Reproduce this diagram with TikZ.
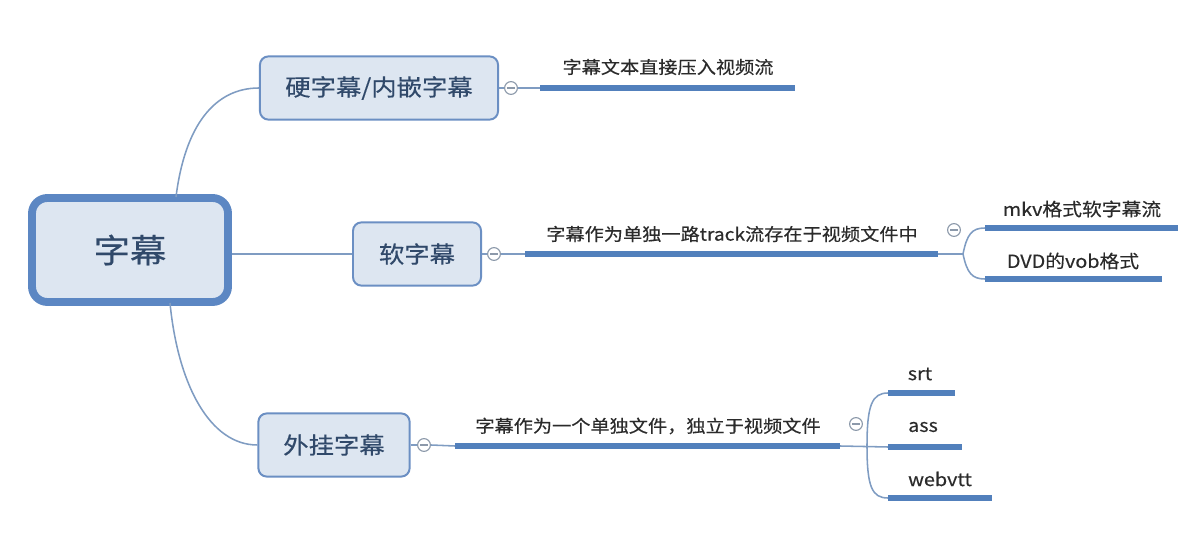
\documentclass[tikz,border=0pt]{standalone}
\usepackage{fontspec}
\setmainfont{Noto Sans CJK SC}[FakeStretch=1.1, FakeBold=0.4]
\usepackage{xcolor}
\usetikzlibrary{positioning,calc}
\definecolor{ink}{HTML}{2B2B2B}
\definecolor{boxInk}{HTML}{30496A}
\definecolor{boxFill}{HTML}{DDE6F1}
\definecolor{boxLine}{HTML}{6B8FC3}
\definecolor{rootLine}{HTML}{5C87C3}
\definecolor{linkCol}{HTML}{7F9CC2}
\definecolor{barCol}{HTML}{5280BC}
\definecolor{dotCol}{HTML}{8C99AA}

\tikzset{
  rootbox/.style={draw=rootLine, line width=5.6pt, fill=boxFill, rounded corners=11pt,
    minimum width=4.9cm, minimum height=2.6cm, text=boxInk, font=\fontsize{23.5}{28}\selectfont},
  topicbox/.style={draw=boxLine, line width=1.4pt, fill=boxFill, rounded corners=6pt,
    minimum height=1.58cm, inner sep=0pt, text=boxInk, font=\fontsize{16.4}{20}\selectfont},
  leaf/.style={inner sep=0pt, text=ink, font=\fontsize{12.4}{15}\selectfont},
  bigleaf/.style={leaf, font=\fontsize{12.8}{16}\selectfont},
  link/.style={draw=linkCol, line width=1.1pt},
  bar/.style={draw=barCol, line width=3.6pt},
  fold/.style={circle, draw=dotCol, line width=0.8pt, fill=white, minimum size=0.32cm, inner sep=0pt,
    path picture={\draw[dotCol, line width=0.8pt]
      ([xshift=2pt]path picture bounding box.west) -- ([xshift=-2pt]path picture bounding box.east);}}
}

\begin{document}
\begin{tikzpicture}[x=0.025cm, y=-0.025cm]
  \useasboundingbox (0,0) rectangle (1188,536);

  % main topic and its three branches
  \node[rootbox] (root) at (130,250) {字幕};
  \node[topicbox, minimum width=5.95cm] (hard) at (379,88) {硬字幕/内嵌字幕};
  \node[topicbox, minimum width=3.2cm] (soft) at (417,254) {软字幕};
  \node[topicbox, minimum width=3.78cm] (ext) at (334,445) {外挂字幕};

  \coordinate (rootTop) at (176,197);
  \coordinate (rootBot) at (170,303);
  \draw[link] (rootTop) .. controls (185,125) and (215,88) .. (hard.west);
  \draw[link] (root.east |- soft.west) -- (soft.west);
  \draw[link] (rootBot) .. controls (178,385) and (210,445) .. (ext.west);

  % hard subtitles
  \node[fold] (hardDot) at (511,88) {};
  \coordinate (hardL) at (540,88);
  \coordinate (hardR) at (795,88);
  \draw[link] (hard.east) -- (hardDot.west);
  \draw[link] (hardDot.east) -- (hardL);
  \draw[bar] (hardL) -- (hardR);
  \node[leaf] (hardTxt) at (668,67) {字幕文本直接压入视频流};

  % soft subtitles
  \node[fold] (softDot) at (494,254) {};
  \coordinate (softL) at (525,254);
  \coordinate (softR) at (938,254);
  \draw[link] (soft.east) -- (softDot.west);
  \draw[link] (softDot.east) -- (softL);
  \draw[bar] (softL) -- (softR);
  \node[leaf] (softTxt) at (732,234) {字幕作为单独一路track流存在于视频文件中};

  \node[fold] (softFold) at (954,230) {};
  \coordinate (softFork) at (963,254);
  \coordinate (mkvL) at (985,228);
  \coordinate (mkvR) at (1178,228);
  \coordinate (dvdL) at (985,279);
  \coordinate (dvdR) at (1162,279);
  \draw[link] (softR) -- (softFork);
  \draw[link] (softFork) .. controls (967,234) and (972,228) .. (mkvL);
  \draw[link] (softFork) .. controls (967,273) and (972,279) .. (dvdL);
  \draw[bar] (mkvL) -- (mkvR);
  \draw[bar] (dvdL) -- (dvdR);
  \node[bigleaf] (mkvTxt) at (1082,209) {mkv格式软字幕流};
  \node[bigleaf] (dvdTxt) at (1073,261) {DVD的vob格式};

  % external subtitles
  \node[fold] (extDot) at (424,445) {};
  \coordinate (extL) at (455,446);
  \coordinate (extR) at (840,446);
  \draw[link] (ext.east) -- (extDot.west);
  \draw[link] (extDot.east) -- (extL);
  \draw[bar] (extL) -- (extR);
  \node[leaf] (extTxt) at (648,426) {字幕作为一个单独文件，独立于视频文件};

  \node[fold] (extFold) at (856,424) {};
  \coordinate (extFork) at (867,446);
  \coordinate (srtL) at (888,393);
  \coordinate (srtR) at (955,393);
  \coordinate (assL) at (888,447);
  \coordinate (assR) at (962,447);
  \coordinate (vttL) at (888,498);
  \coordinate (vttR) at (992,498);
  \draw[link] (extR) -- (assL);
  \draw[link] (extFork) .. controls (867,405) and (872,393) .. (srtL);
  \draw[link] (extFork) .. controls (867,487) and (872,498) .. (vttL);
  \draw[bar] (srtL) -- (srtR);
  \draw[bar] (assL) -- (assR);
  \draw[bar] (vttL) -- (vttR);
  \node[bigleaf] (srtTxt) at (920,374) {srt};
  \node[bigleaf] (assTxt) at (923,427) {ass};
  \node[bigleaf] (vttTxt) at (940,479) {webvtt};
\end{tikzpicture}
\end{document}
